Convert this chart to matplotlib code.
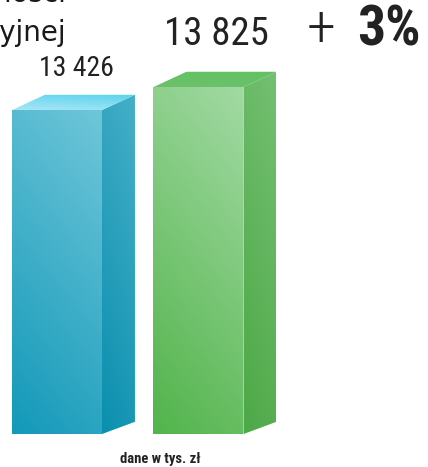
import numpy as np
import matplotlib
matplotlib.use("Agg")
import matplotlib.pyplot as plt
from matplotlib.patches import Polygon
from matplotlib import font_manager as fm

categories = ["2014", "2015"]
values = [13426, 13825]
labels = ["13 426", "13 825"]
change_label = "3%"
unit_label = "dane w tys. zł"
title_line1 = "działalności"
title_line2 = "inwestycyjnej"

names = {f.name for f in fm.fontManager.ttflist}
narrow = [n for n in ["Liberation Sans Narrow", "Roboto Condensed", "Open Sans Condensed", "DejaVu Sans"] if n in names]

W, H = 428, 467
fig = plt.figure(figsize=(W/100, H/100), dpi=100)
ax = fig.add_axes([0, 0, 1, 1])
ax.set_xlim(-0.4028, 2.622)
ax.set_ylim(7233, 15335)
ax.axis("off")

BASE = 7805
BW = 0.636
DX = 0.233
DY = 265

def grad_fill(poly_pts, c_top, c_bot):
    poly = Polygon(poly_pts, closed=True, facecolor="none", edgecolor="none")
    ax.add_patch(poly)
    xs = [p[0] for p in poly_pts]; ys = [p[1] for p in poly_pts]
    x0, x1, y0, y1 = min(xs), max(xs), min(ys), max(ys)
    n = 64
    yy, xx = np.mgrid[0:1:n*1j, 0:1:n*1j]
    t = np.clip(0.75*yy + 0.25*xx, 0, 1)
    ct = np.array(matplotlib.colors.to_rgb(c_top)); cb = np.array(matplotlib.colors.to_rgb(c_bot))
    img = cb[None, None, :]*(1-t[..., None]) + ct[None, None, :]*t[..., None]
    im = ax.imshow(img, extent=[x0, x1, y0, y1], origin="lower", aspect="auto",
                   interpolation="bilinear", zorder=2)
    im.set_clip_path(poly)

styles = [
    dict(front=("#6fc6d9", "#1399b9"), side=("#46afc8", "#0a8fae"), top=("#5ad3ee", "#a8e6f5")),
    dict(front=("#a2d9a3", "#52b44b"), side=("#74c072", "#4da846"), top=("#62c163", "#6cc26b")),
]

for i, (v, st) in enumerate(zip(values, styles)):
    xl, xr = i - BW/2, i + BW/2
    front = [(xl, BASE), (xr, BASE), (xr, v), (xl, v)]
    side = [(xr, BASE), (xr+DX, BASE+DY*0.8), (xr+DX, v+DY), (xr, v)]
    top = [(xl, v), (xr, v), (xr+DX, v+DY), (xl+DX, v+DY)]
    grad_fill(front, *st["front"])
    grad_fill(side, *st["side"])
    grad_fill(top, *st["top"])

ax.text(0 + 0.135, values[0] + DY + 230, labels[0], ha="center", va="bottom",
        fontsize=20, family=narrow, color="#222222")
ax.text(1 + 0.13, values[1] + DY + 330, labels[1], ha="center", va="bottom",
        fontsize=28, family=narrow, color="#222222")

fig.text(321/W, 1 - 30/H, "+", ha="center", va="center", fontsize=42, family=narrow,
         weight="light", color="#222222")
fig.text(389/W, 1 - 30/H, change_label, ha="center", va="center", fontsize=40,
         family=narrow, weight="heavy", color="#222222")
fig.text(160/W, 1 - 459/H, unit_label, ha="center", va="center", fontsize=10.5,
         family=narrow, weight="bold", color="#222222")
fig.text(66/W, 1 - 2/H, title_line1, ha="right", va="baseline", fontsize=20,
         family=["DejaVu Sans"], color="#1a1a1a")
fig.text(66/W, 1 - 41/H, title_line2, ha="right", va="baseline", fontsize=20,
         family=["DejaVu Sans"], color="#1a1a1a")

fig.savefig("out.png", dpi=100)
